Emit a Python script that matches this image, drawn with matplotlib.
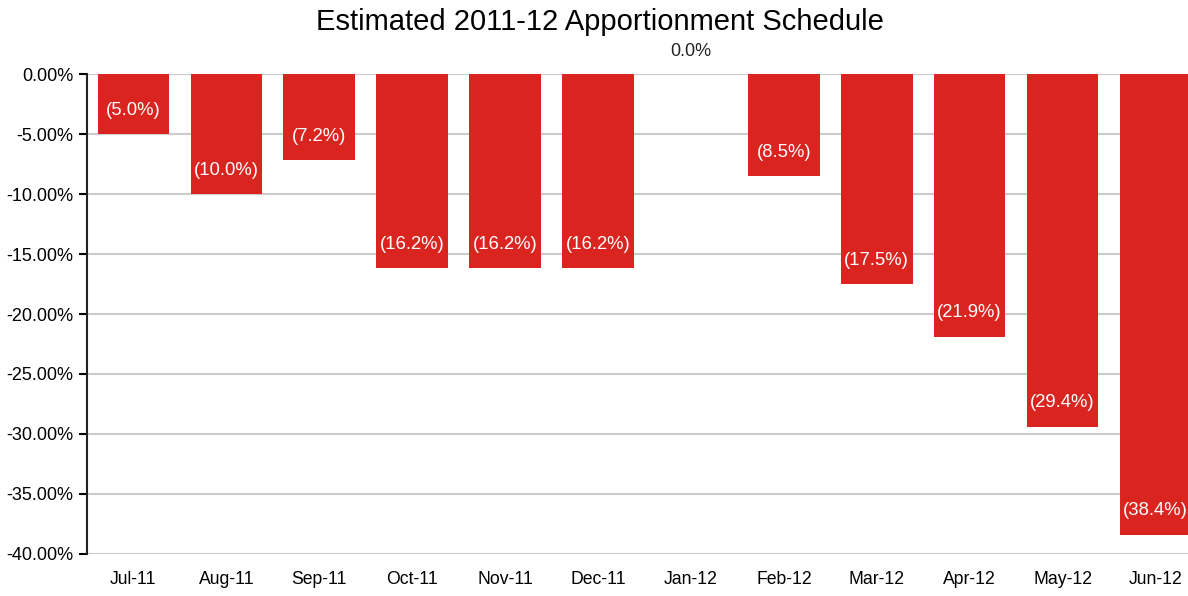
import matplotlib
matplotlib.use("Agg")
import matplotlib.pyplot as plt
from matplotlib.ticker import FuncFormatter

months = ["Jul-11", "Aug-11", "Sep-11", "Oct-11", "Nov-11", "Dec-11",
          "Jan-12", "Feb-12", "Mar-12", "Apr-12", "May-12", "Jun-12"]
values = [-5.0, -10.0, -7.2, -16.2, -16.2, -16.2, 0.0, -8.5, -17.5, -21.9, -29.4, -38.4]
yticks = [0, -5, -10, -15, -20, -25, -30, -35, -40]

plt.rcParams['font.family'] = ['Liberation Sans', 'DejaVu Sans']

fig = plt.figure(figsize=(11.88, 5.96), dpi=100)
ax = fig.add_axes([0.0732, 0.0705, 0.9268, 0.8053])

x = list(range(len(months)))
ax.bar(x, values, width=0.77, color="#DA2420", zorder=3)

for xi, v in zip(x, values):
    if v == 0:
        ax.text(xi, 1.2, f"{abs(v):.1f}%", ha="center", va="bottom",
                fontsize=13, color="#222222")
    else:
        ax.text(xi, v + 2.0, f"({abs(v):.1f}%)", ha="center", va="center",
                fontsize=13.3, color="white", zorder=4)

ax.set_xlim(-0.5, 11.35)
ax.set_ylim(-40, 0)
ax.set_yticks(yticks)
ax.yaxis.set_major_formatter(FuncFormatter(lambda v, p: f"{v:.2f}%"))
ax.set_xticks(x)
ax.set_xticklabels(months)
ax.tick_params(axis="x", length=0, labelsize=12.7, pad=12)
ax.tick_params(axis="y", length=6, width=1.5, labelsize=13, pad=4, direction="out")
ax.grid(axis="y", color="#CCCCCC", linewidth=1.5, zorder=0)
for s in ["top", "right", "bottom"]:
    ax.spines[s].set_visible(False)
ax.spines["left"].set_linewidth(1.5)
ax.spines["left"].set_color("#222222")

fig.text(0.505, 0.963, "Estimated 2011-12 Apportionment Schedule", ha="center",
         va="center", fontsize=21)

fig.savefig("out.png", dpi=100)
